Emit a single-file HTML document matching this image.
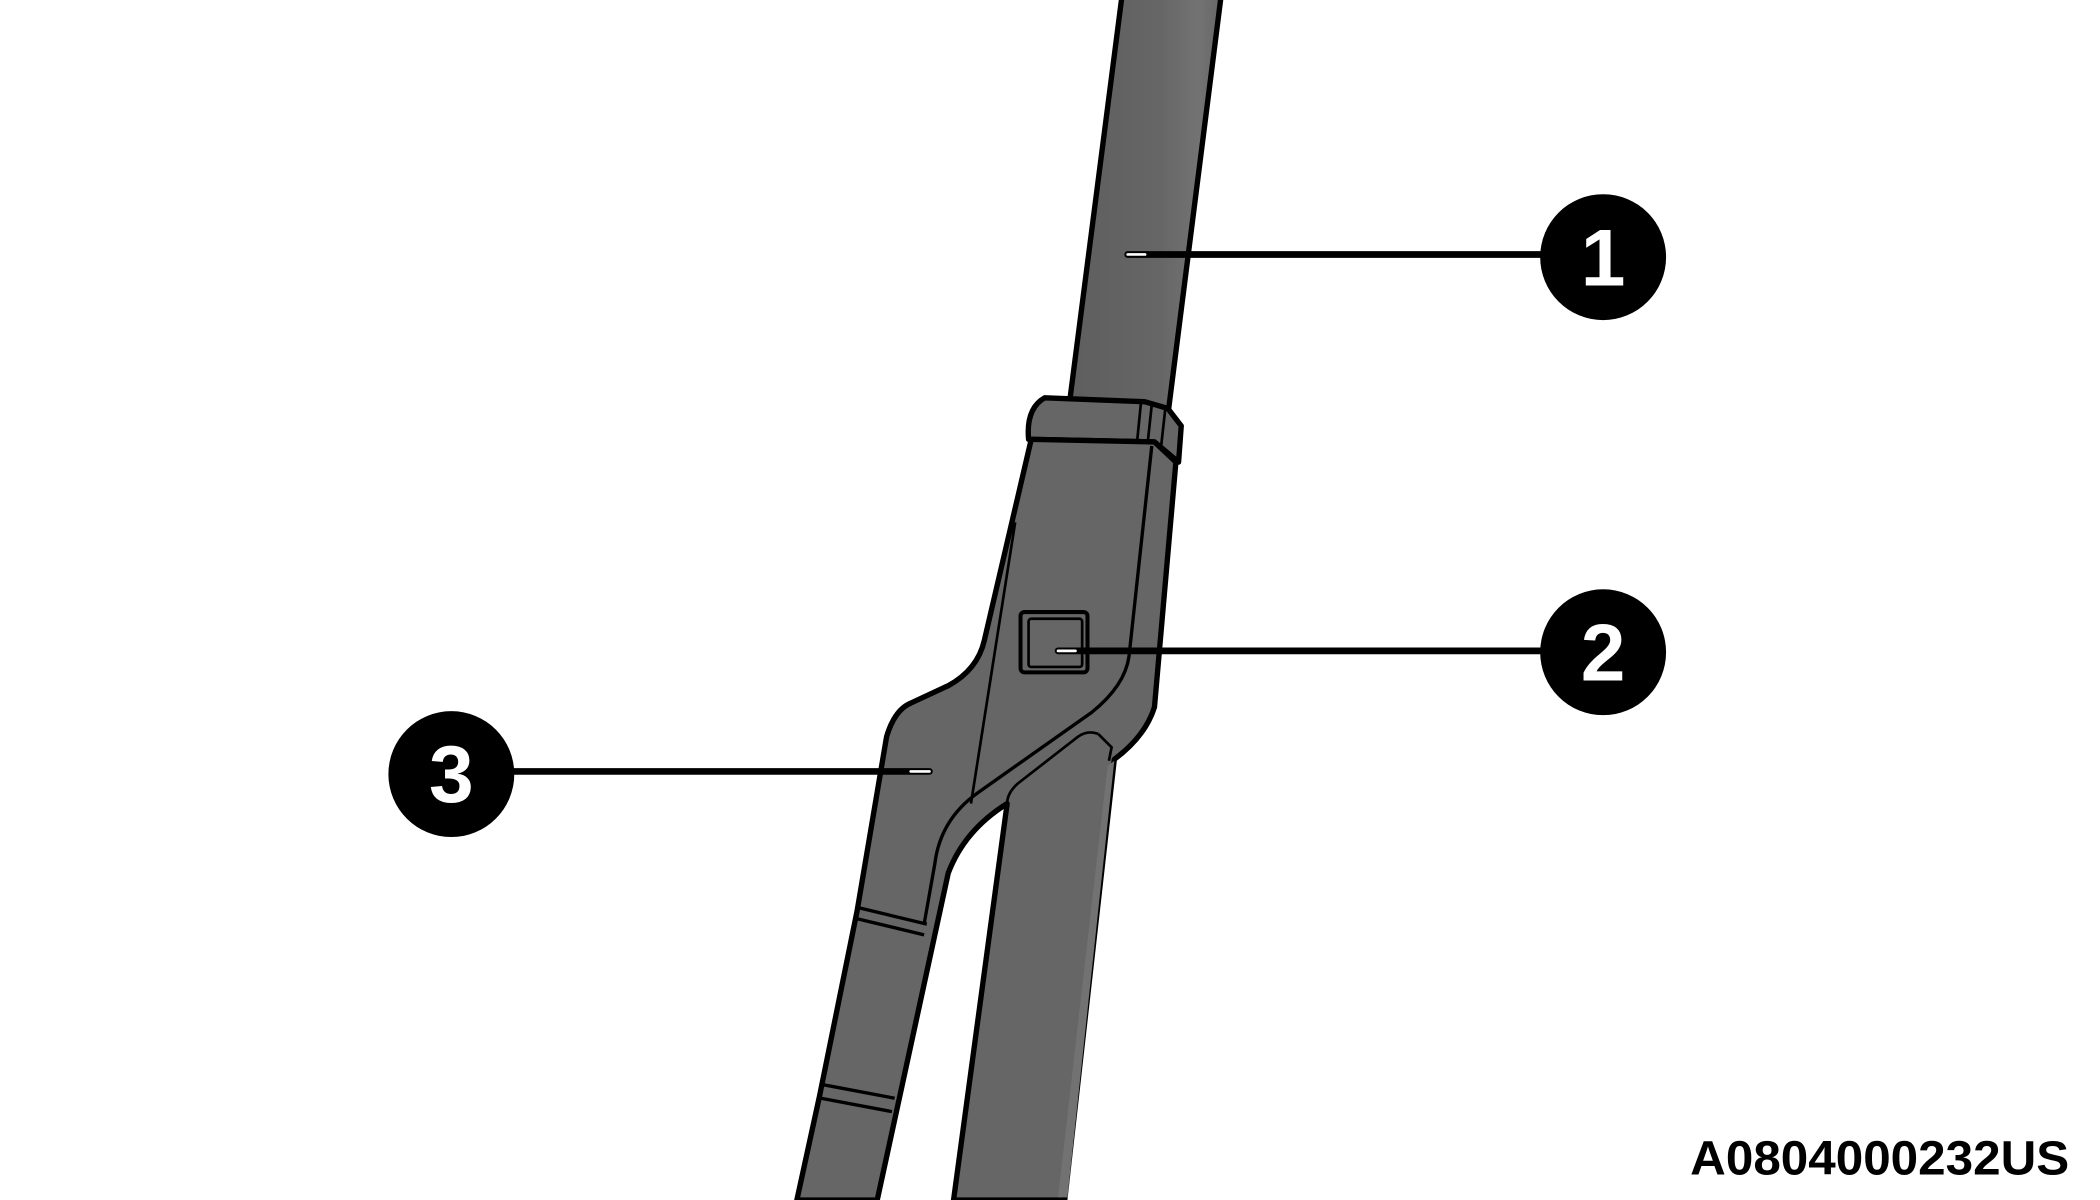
<!DOCTYPE html>
<html><head><meta charset="utf-8"><style>
html,body{margin:0;padding:0;background:#fff;}
svg{display:block;}
</style></head><body>
<svg width="2100" height="1200" viewBox="0 0 1568 896" xmlns="http://www.w3.org/2000/svg">
<defs>
<linearGradient id="g1" x1="0" x2="1" y1="0" y2="0">
<stop offset="0" stop-color="#5e5e5e"/><stop offset="0.6" stop-color="#666"/><stop offset="0.85" stop-color="#737373"/><stop offset="1" stop-color="#666"/>
</linearGradient>
</defs>
<path d="M838,-5 L912,-5 L872,310 L798,305 Z" fill="url(#g1)" stroke="#000" stroke-width="4" stroke-linejoin="round"/>
<path d="M780,297 L855,300 L872,305 L882,318 L880,345 L862,330 L768,328 Q766,305 780,297 Z" fill="#666" stroke="#000" stroke-width="4" stroke-linejoin="round"/>
<line x1="852" y1="300" x2="849" y2="330" stroke="#000" stroke-width="2"/>
<line x1="860" y1="302" x2="857" y2="330" stroke="#000" stroke-width="2"/>
<line x1="870" y1="306" x2="867" y2="333" stroke="#000" stroke-width="2"/>
<path d="M770,328 L862,330 L878,345 L862,528 Q855,550 832,567 L795,896 L712,896 L752,600 Q720,620 708,652 L655,896 L595,896 L612,818 L640,680 L662,550 Q668,530 680,525 L708,512 Q730,500 735,478 Z" fill="#666" stroke="#000" stroke-width="4" stroke-linejoin="round"/>
<path d="M827,572 L790,894 L797,894 L832,568 Z" fill="#727272"/>
<path d="M758,390 L725,600" stroke="#000" stroke-width="2" fill="none"/>
<path d="M860,333 L843,490 Q840,512 815,532 L730,592 Q702,612 698,645 L690,690" stroke="#000" stroke-width="2.5" fill="none"/>
<path d="M820,548 L830,558 L828,568" stroke="#000" stroke-width="2" fill="none"/>
<path d="M820,548 Q812,545 805,550 L760,585 Q752,592 752,600" stroke="#000" stroke-width="2" fill="none"/>
<rect x="762" y="457" width="50" height="45" rx="3" fill="#666" stroke="#000" stroke-width="3"/>
<rect x="768" y="462" width="40" height="36" rx="2" fill="none" stroke="#000" stroke-width="2"/>
<path d="M642,678 L692,690 M640,686 L690,698" stroke="#000" stroke-width="2.5"/>
<path d="M615,810 L668,820 M613,820 L666,830" stroke="#000" stroke-width="2.5"/>
<g stroke-linecap="round">
<line x1="842" y1="190" x2="1150" y2="190" stroke="#000" stroke-width="5"/>
<line x1="842" y1="190" x2="855" y2="190" stroke="#fff" stroke-width="2"/>
<line x1="790" y1="486" x2="1150" y2="486" stroke="#000" stroke-width="5"/>
<line x1="790" y1="486" x2="803" y2="486" stroke="#fff" stroke-width="2"/>
<line x1="384" y1="576" x2="694" y2="576" stroke="#000" stroke-width="5"/>
<line x1="680" y1="576" x2="694" y2="576" stroke="#fff" stroke-width="2"/>
</g>
<circle cx="1197" cy="192" r="47" fill="#000"/>
<circle cx="1197" cy="487" r="47" fill="#000"/>
<circle cx="337" cy="578" r="47" fill="#000"/>
<g font-family="Liberation Sans, sans-serif" font-weight="bold" font-size="60" fill="#fff" text-anchor="middle">
<text x="1197" y="213">1</text>
<text x="1197" y="508">2</text>
<text x="337" y="599">3</text>
</g>
<text x="1545" y="877" font-family="Liberation Sans, sans-serif" font-weight="bold" font-size="36" fill="#000" text-anchor="end" textLength="283" lengthAdjust="spacingAndGlyphs">A0804000232US</text>
</svg>
</body></html>
